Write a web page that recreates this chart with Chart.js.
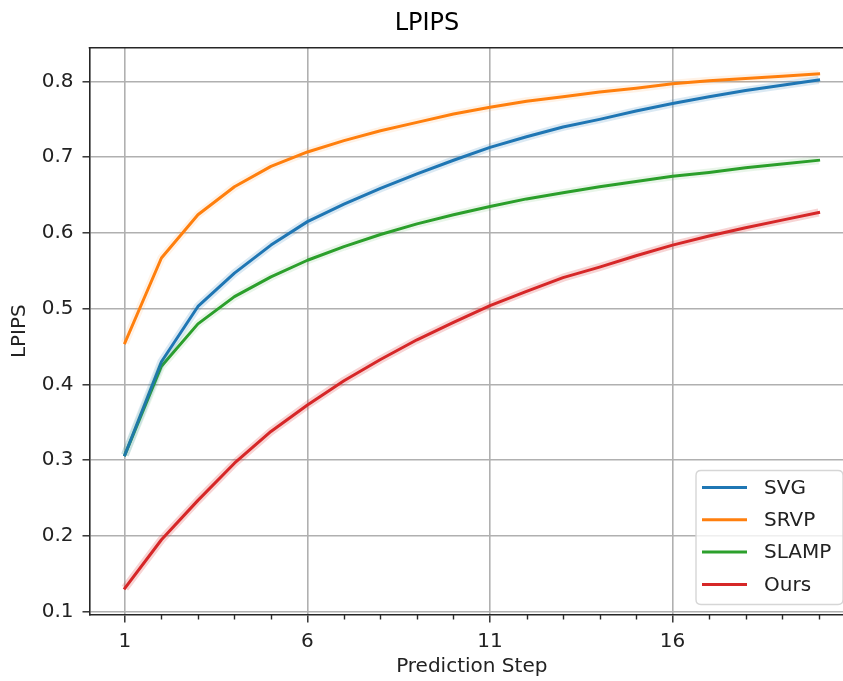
<!DOCTYPE html>
<html>
<head>
<meta charset="utf-8">
<script src="https://cdn.jsdelivr.net/npm/chart.js@4.4.1/dist/chart.umd.min.js"></script>
<style>
  html, body { margin: 0; padding: 0; background: #fff; overflow: hidden; width: 843px; height: 681px; }
  #wrap { position: absolute; left: 0; top: 0; width: 854px; height: 681px; }
</style>
</head>
<body>
<div id="wrap"><canvas id="c" width="854" height="681"></canvas></div>
<script>
// ---- data ----
const steps = [1, 2, 3, 4, 5, 6, 7, 8, 9, 10, 11, 12, 13, 14, 15, 16, 17, 18, 19, 20];
const xTickLabels = [1, 6, 11, 16];
const yTickValues = [0.1, 0.2, 0.3, 0.4, 0.5, 0.6, 0.7, 0.8];
const seriesNames = ['SVG', 'SRVP', 'SLAMP', 'Ours'];
const svg   = [0.307, 0.430, 0.503, 0.547, 0.584, 0.615, 0.638, 0.659, 0.678, 0.696, 0.713, 0.727, 0.740, 0.750, 0.761, 0.771, 0.780, 0.788, 0.795, 0.802];
const srvp  = [0.455, 0.567, 0.624, 0.661, 0.688, 0.707, 0.722, 0.735, 0.746, 0.757, 0.766, 0.774, 0.780, 0.786, 0.791, 0.797, 0.801, 0.804, 0.807, 0.810];
const slamp = [0.307, 0.424, 0.480, 0.516, 0.542, 0.564, 0.582, 0.598, 0.612, 0.624, 0.635, 0.645, 0.653, 0.661, 0.668, 0.675, 0.680, 0.686, 0.691, 0.696];
const ours  = [0.131, 0.195, 0.247, 0.296, 0.338, 0.373, 0.405, 0.433, 0.459, 0.482, 0.504, 0.523, 0.541, 0.555, 0.570, 0.584, 0.596, 0.607, 0.617, 0.627];

// ---- styles ----
const FONT = '"DejaVu Sans", "Liberation Sans", sans-serif';
const colors = ['#1f77b4', '#ff7f0e', '#2ca02c', '#d62728'];
const halos = ['rgba(31,119,180,0.16)', 'rgba(255,127,14,0.10)', 'rgba(44,160,44,0.10)', 'rgba(214,39,40,0.20)'];
const values = [svg, srvp, slamp, ours];

function pts(arr) { return arr.map((v, i) => ({ x: steps[i], y: v })); }

const datasets = [];
// faint halos (shaded spread), not in legend
values.forEach((arr, i) => {
  datasets.push({
    label: seriesNames[i] + ' band', data: pts(arr), isHalo: true,
    borderColor: halos[i], borderWidth: 8, pointRadius: 0, tension: 0, fill: false,
    borderJoinStyle: 'round', borderCapStyle: 'butt'
  });
});
values.forEach((arr, i) => {
  datasets.push({
    label: seriesNames[i], data: pts(arr),
    borderColor: colors[i], backgroundColor: colors[i], borderWidth: 3, pointRadius: 0, tension: 0, fill: false,
    borderJoinStyle: 'round', borderCapStyle: 'square'
  });
});

const frame = {
  id: 'frame',
  afterDatasetsDraw(chart) {
    const { ctx, chartArea: a, scales } = chart;
    ctx.save();
    // top spine
    ctx.strokeStyle = '#262626'; ctx.lineWidth = 1.6;
    ctx.beginPath(); ctx.moveTo(a.left - 0.8, a.top); ctx.lineTo(a.right + 0.8, a.top); ctx.stroke();
    // minor x ticks
    const xs = scales.x;
    ctx.strokeStyle = '#262626'; ctx.lineWidth = 1.4;
    steps.forEach(s => {
      if (xTickLabels.includes(s)) return;
      const px = Math.round(xs.getPixelForValue(s)) + 0.5;
      ctx.beginPath(); ctx.moveTo(px, a.bottom); ctx.lineTo(px, a.bottom + 5); ctx.stroke();
    });
    // legend
    const w = 147, h = 134;
    const right = a.right - 11, bottom = a.bottom - 10;
    const left = right - w, top = bottom - h;
    const r = 5;
    ctx.beginPath();
    ctx.moveTo(left + r, top);
    ctx.lineTo(right - r, top); ctx.quadraticCurveTo(right, top, right, top + r);
    ctx.lineTo(right, bottom - r); ctx.quadraticCurveTo(right, bottom, right - r, bottom);
    ctx.lineTo(left + r, bottom); ctx.quadraticCurveTo(left, bottom, left, bottom - r);
    ctx.lineTo(left, top + r); ctx.quadraticCurveTo(left, top, left + r, top);
    ctx.closePath();
    ctx.fillStyle = 'rgba(255,255,255,0.8)'; ctx.fill();
    ctx.strokeStyle = '#d6d6d6'; ctx.lineWidth = 1.4; ctx.stroke();
    ctx.font = '20px ' + FONT; ctx.textBaseline = 'middle'; ctx.textAlign = 'left';
    seriesNames.forEach((name, i) => {
      const y = top + 17 + i * 32.3;
      ctx.strokeStyle = colors[i]; ctx.lineWidth = 3; ctx.lineCap = 'butt';
      ctx.beginPath(); ctx.moveTo(left + 6, y); ctx.lineTo(left + 51, y); ctx.stroke();
      ctx.fillStyle = '#222';
      ctx.fillText(name, left + 68, y + 1);
    });
    ctx.restore();
  }
};

new Chart(document.getElementById('c'), {
  type: 'line',
  data: { datasets },
  plugins: [frame],
  options: {
    responsive: false, animation: false, devicePixelRatio: 1,
    layout: { padding: { left: 0, right: 0, top: 0, bottom: 0 } },
    plugins: {
      legend: { display: false },
      tooltip: { enabled: false },
      title: {
        display: true, text: 'LPIPS', color: '#000',
        font: { family: FONT, size: 24, weight: 'normal' },
        padding: { top: 9, bottom: 10 }
      }
    },
    scales: {
      x: {
        type: 'linear', min: 0.03, max: 20.97,
        afterBuildTicks(scale) { scale.ticks = steps.map(v => ({ value: v })); },
        afterFit(scale) { scale.height = 66.5; },
        ticks: {
          autoSkip: false, maxRotation: 0, padding: 7, color: '#222',
          font: { family: FONT, size: 20 },
          callback: v => xTickLabels.includes(v) ? String(v) : ''
        },
        grid: {
          color: c => (c.tick && xTickLabels.includes(c.tick.value)) ? '#b0b0b0' : 'rgba(0,0,0,0)',
          tickColor: c => (c.tick && xTickLabels.includes(c.tick.value)) ? '#262626' : 'rgba(0,0,0,0)',
          lineWidth: 1.6, tickLength: 8, tickWidth: 1.4
        },
        border: { display: true, color: '#262626', width: 1.6 },
        title: {
          display: true, text: 'Prediction Step', color: '#222',
          font: { family: FONT, size: 20 }, padding: { top: 2, bottom: 2 }
        }
      },
      y: {
        type: 'linear', min: 0.0963, max: 0.8445,
        afterBuildTicks(scale) { scale.ticks = yTickValues.map(v => ({ value: v })); },
        afterFit(scale) { scale.width = 89.5; },
        ticks: {
          padding: 9, color: '#222',
          font: { family: FONT, size: 20 },
          callback: v => Number(v).toFixed(1)
        },
        grid: { color: '#b0b0b0', lineWidth: 1.6, tickLength: 7, tickColor: '#262626', tickWidth: 1.4 },
        border: { display: true, color: '#262626', width: 1.6 },
        title: {
          display: true, text: 'LPIPS', color: '#222',
          font: { family: FONT, size: 20 }, padding: { top: 8, bottom: 0 }
        }
      }
    }
  }
});
</script>
</body>
</html>
